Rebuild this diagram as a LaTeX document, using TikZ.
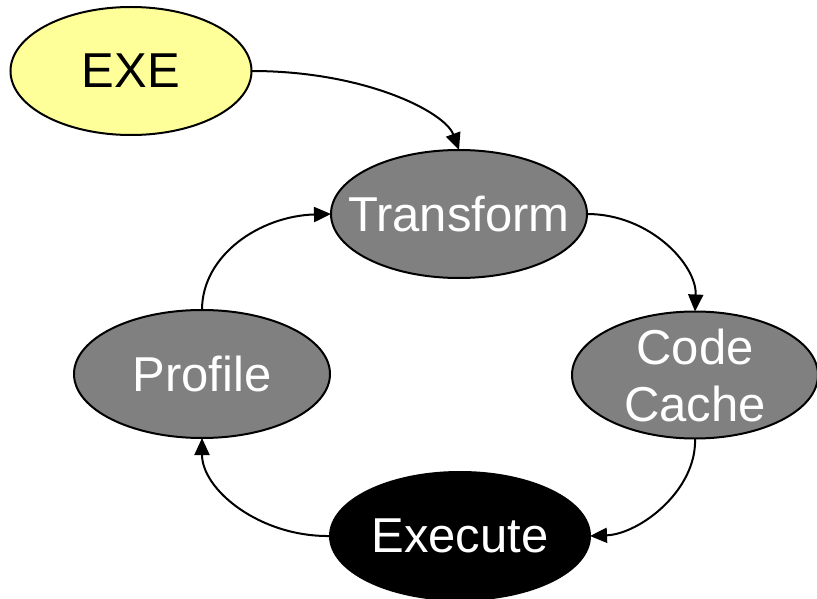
\documentclass[tikz,border=0pt]{standalone}
\usepackage{fontspec}
\setmainfont{Liberation Sans}
\usetikzlibrary{shapes.geometric,arrows.meta}
\definecolor{exeyellow}{HTML}{FFFF99}
\definecolor{procgray}{HTML}{808080}
\begin{document}
\begin{tikzpicture}[x=1pt,y=-1pt,
  oval/.style={ellipse, draw=black, line width=2pt, inner sep=0pt, outer sep=0pt},
  lbl/.style={font=\fontsize{49}{57}\selectfont, align=center, inner sep=0pt},
  flow/.style={line width=2pt, -{Triangle[length=17pt,width=15pt]}}]
\useasboundingbox (0,0) rectangle (817,599);
\node[oval, fill=exeyellow, minimum width=241pt, minimum height=128pt,
      label={[lbl, text=black]center:EXE}] (exe) at (131,71) {};
\node[oval, fill=procgray, minimum width=256pt, minimum height=128pt,
      label={[lbl, text=white]center:Transform}] (tr) at (459,214) {};
\node[oval, fill=procgray, minimum width=246pt, minimum height=127pt,
      label={[lbl, text=white]center:Code\\Cache}] (cc) at (695,375) {};
\node[oval, fill=procgray, minimum width=256pt, minimum height=128pt,
      label={[lbl, text=white]center:Profile}] (pr) at (202,374) {};
\node[oval, fill=black, minimum width=260pt, minimum height=128pt,
      label={[lbl, text=white]center:Execute}] (ex) at (460,536) {};
\draw[flow] (exe.east) .. controls (365,71) and (445,112) .. (tr.north);
\draw[flow] (tr.east) .. controls (650,214) and (697,265) .. (cc.north);
\draw[flow] (cc.south) .. controls (697,490) and (640,534) .. (ex.east);
\draw[flow] (ex.west) .. controls (260,537) and (202,490) .. (pr.south);
\draw[flow] (pr.north) .. controls (202,255) and (260,216) .. (tr.west);
\end{tikzpicture}
\end{document}
